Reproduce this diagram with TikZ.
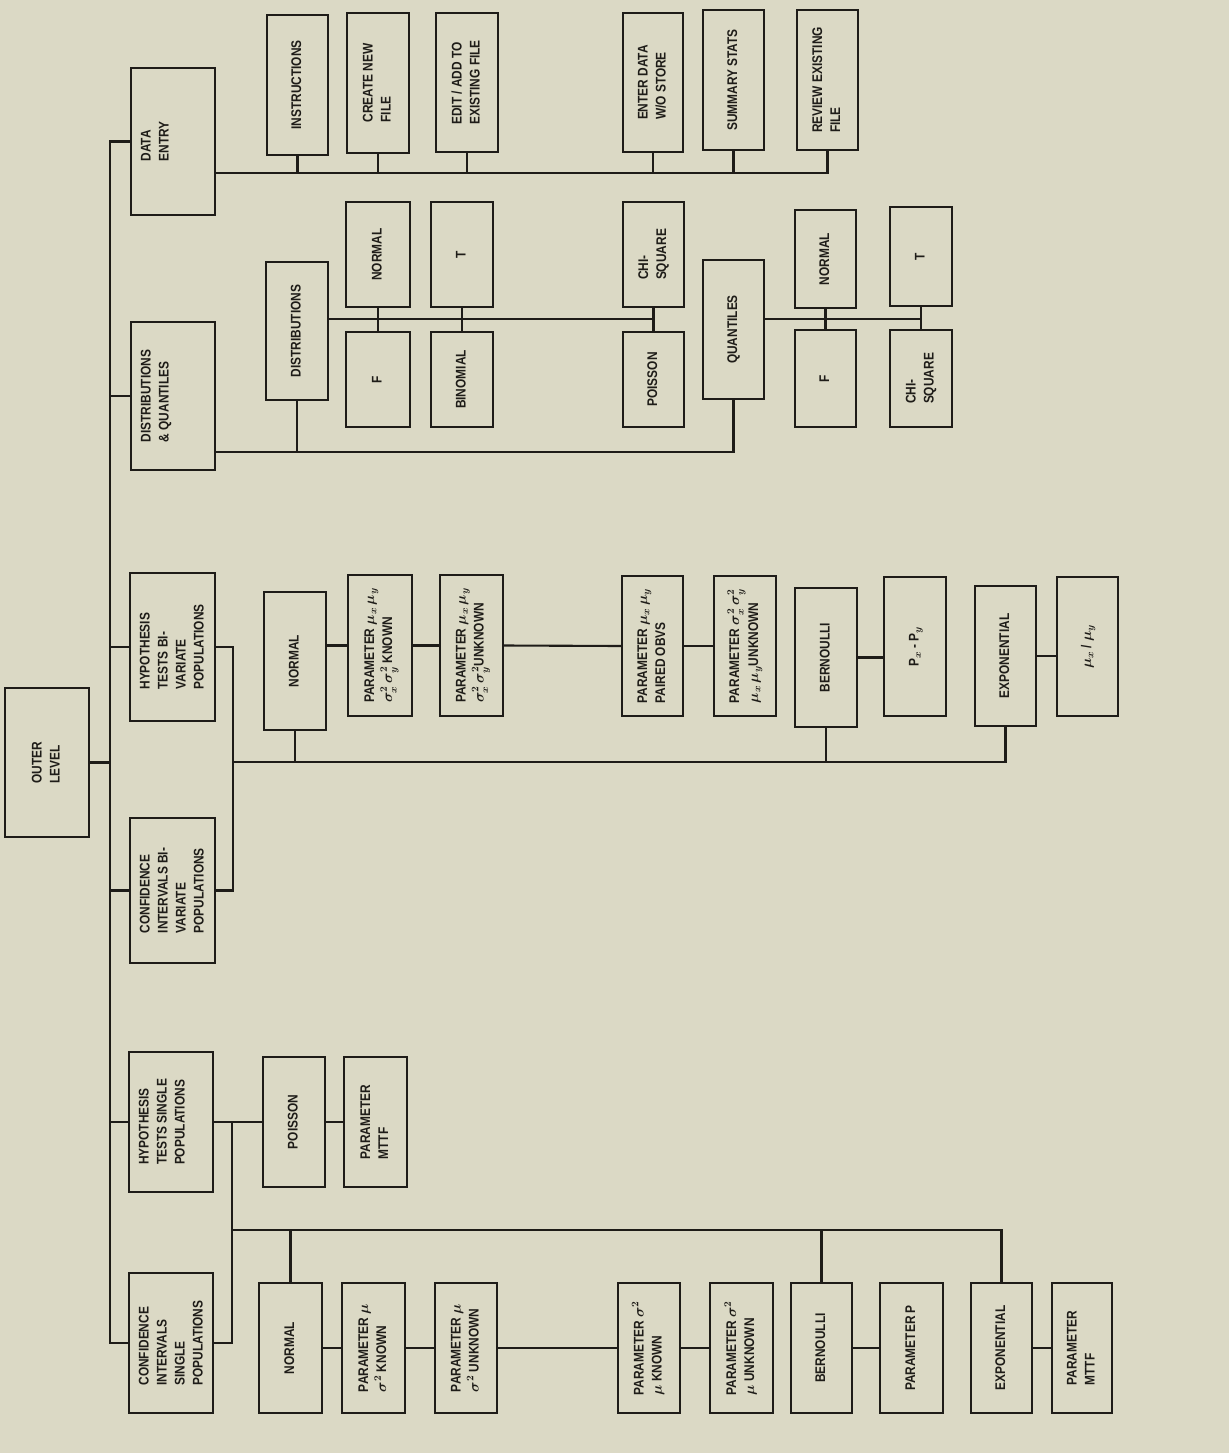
\documentclass[tikz,border=0pt]{standalone}
\usepackage{fontspec}
\setmainfont{Liberation Sans}[FakeStretch=0.85]
\usepackage{graphicx}
\definecolor{bgc}{RGB}{219,217,197}
\definecolor{ink}{RGB}{30,28,24}
\tikzset{
  box/.style={draw=ink, line width=2.4pt, inner sep=0pt, text=ink,
    font=\bfseries\boldmath\fontsize{14}{18}\selectfont},
  conn/.style={draw=ink, line width=2.1pt}
}
\newcommand\bx[6]{%
  \pgfmathsetmacro\bw{#4-#2}\pgfmathsetmacro\bh{#5-#3}%
  \node[box,minimum width=\bw pt,minimum height=\bh pt] (#1) at ({(#2+#4)/2},{(#3+#5)/2})
    {\rotatebox{90}{\begin{tabular}{@{}l@{}}#6\end{tabular}}};}
\newcommand\bxt[6]{%
  \pgfmathsetmacro\bw{#4-#2}\pgfmathsetmacro\bh{#5-#3}%
  \pgfmathsetmacro\ih{#4-#2-14}\pgfmathsetmacro\iw{#5-#3-10}%
  \node[box,minimum width=\bw pt,minimum height=\bh pt] (#1) at ({(#2+#4)/2},{(#3+#5)/2})
    {\rotatebox{90}{\parbox[c][\ih pt][t]{\iw pt}{\centering\begin{tabular}[t]{@{}l@{}}#6\end{tabular}}}};}
\begin{document}
\begin{tikzpicture}[x=1pt,y=-1pt]
\fill[bgc] (0,0) rectangle (1229,1453);
\useasboundingbox (0,0) rectangle (1229,1453);

% level 0 and level 1
\bx{out}{5}{688}{89}{837}{OUTER\\LEVEL}
\bxt{de}{131}{68}{215}{215}{DATA\\ENTRY}
\bxt{dq}{131}{322}{215}{470}{DISTRIBUTIONS\\\& QUANTILES}
\bxt{hb}{130}{573}{215}{721}{HYPOTHESIS\\TESTS BI-\\VARIATE\\POPULATIONS}
\bxt{cb}{130}{818}{215}{963}{CONFIDENCE\\INTERVALS BI-\\VARIATE\\POPULATIONS}
\bxt{hs}{129}{1052}{213}{1192}{HYPOTHESIS\\TESTS SINGLE\\POPULATIONS}
\bxt{cs}{129}{1273}{213}{1413}{CONFIDENCE\\INTERVALS\\SINGLE\\POPULATIONS}

% data entry
\bx{ins}{267}{15}{328}{155}{INSTRUCTIONS}
\bx{cnf}{347}{13}{409}{153}{CREATE NEW\\FILE}
\bx{edt}{436}{13}{498}{152}{EDIT / ADD TO\\EXISTING FILE}
\bx{ent}{623}{13}{683}{152}{ENTER DATA\\W/O STORE}
\bx{sum}{703}{10}{764}{150}{SUMMARY STATS}
\bx{rev}{797}{10}{858}{150}{REVIEW EXISTING\\FILE}

% distributions & quantiles
\bx{dist}{266}{262}{328}{400}{DISTRIBUTIONS}
\bx{n1}{346}{202}{410}{307}{NORMAL}
\bx{f1}{346}{332}{410}{427}{F}
\bx{t1}{431}{202}{493}{307}{T}
\bx{bin}{431}{332}{493}{427}{BINOMIAL}
\bx{c1}{623}{202}{684}{307}{CHI-\\SQUARE}
\bx{poi1}{623}{332}{684}{427}{POISSON}
\bx{qu}{703}{260}{764}{399}{QUANTILES}
\bx{n2}{795}{210}{856}{308}{NORMAL}
\bx{f2}{795}{330}{856}{427}{F}
\bx{t2}{890}{207}{952}{306}{T}
\bx{c2}{890}{330}{952}{427}{CHI-\\SQUARE}

% bivariate
\bx{nb}{264}{592}{326}{730}{NORMAL}
\bx{pk}{348}{575}{412}{716}{PARAMETER $\mu_x\,\mu_y$\\$\sigma_x^2\,\sigma_y^2$ KNOWN}
\bx{pu}{440}{575}{503}{716}{PARAMETER $\mu_x\,\mu_y$\\$\sigma_x^2\,\sigma_y^2$UNKNOWN}
\bx{pp}{622}{576}{683}{716}{PARAMETER $\mu_x\,\mu_y$\\PAIRED OBVS}
\bx{pv}{714}{576}{776}{716}{PARAMETER $\sigma_x^2\,\sigma_y^2$\\$\mu_x\,\mu_y$UNKNOWN}
\bx{bb}{795}{588}{857}{727}{BERNOULLI}
\bx{pxy}{884}{577}{946}{716}{P$_x$ - P$_y$}
\bx{eb}{975}{586}{1036}{726}{EXPONENTIAL}
\bx{mxy}{1057}{577}{1118}{716}{$\mu_x$ / $\mu_y$}

% single
\bx{poi2}{263}{1057}{325}{1187}{POISSON}
\bx{mt1}{344}{1057}{407}{1187}{PARAMETER\\MTTF}
\bx{ns}{259}{1283}{322}{1413}{NORMAL}
\bx{sk}{342}{1283}{405}{1413}{PARAMETER $\mu$\\$\sigma^2$ KNOWN}
\bx{su}{435}{1283}{497}{1413}{PARAMETER $\mu$\\$\sigma^2$ UNKNOWN}
\bx{vk}{618}{1283}{680}{1413}{PARAMETER $\sigma^2$\\$\mu$ KNOWN}
\bx{vu}{710}{1283}{773}{1413}{PARAMETER $\sigma^2$\\$\mu$ UNKNOWN}
\bx{bs}{791}{1283}{852}{1413}{BERNOULLI}
\bx{pp1}{880}{1283}{943}{1413}{PARAMETER P}
\bx{es}{971}{1283}{1032}{1413}{EXPONENTIAL}
\bx{mt2}{1052}{1283}{1112}{1413}{PARAMETER\\MTTF}

% trunk
\coordinate (tr) at (110,0);
\draw[conn] (de.west) -- (de.west -| tr) -- (cs.west -| tr) -- (cs.west);
\foreach \n in {dq,hb,cb,hs} \draw[conn] (\n.west) -- (\n.west -| tr);
\draw[conn] (out.east) -- (out.east -| tr);

% data entry bus
\coordinate (deb) at (0,173);
\draw[conn] (de.east |- deb) -- (rev.south |- deb) -- (rev.south);
\foreach \n in {ins,cnf,edt,ent,sum} \draw[conn] (\n.south) -- (\n.south |- deb);

% distributions
\coordinate (dqb) at (0,452);
\coordinate (dl) at (0,319);
\draw[conn] (dq.east |- dqb) -- (qu.south |- dqb) -- (qu.south);
\draw[conn] (dist.south) -- (dist.south |- dqb);
\draw[conn] (dist.east |- dl) -- (c1.south |- dl);
\draw[conn] (n1.south) -- (f1.north);
\draw[conn] (t1.south) -- (bin.north);
\draw[conn] (c1.south) -- (poi1.north);
\draw[conn] (qu.east |- dl) -- (t2.south |- dl);
\draw[conn] (n2.south) -- (f2.north);
\draw[conn] (t2.south) -- (c2.north);

% bivariate
\coordinate (bj) at (233,0);
\coordinate (bbus) at (0,762);
\draw[conn] (hb.east) -- (hb.east -| bj) -- (cb.east -| bj) -- (cb.east);
\draw[conn] (bj |- bbus) -- (eb.south |- bbus) -- (eb.south);
\draw[conn] (nb.south) -- (nb.south |- bbus);
\draw[conn] (bb.south) -- (bb.south |- bbus);
\draw[conn] (nb.east |- pk.west) -- (pk.west);
\draw[conn] (pk.east) -- (pu.west);
\draw[conn] (pu.east) -- (pp.west);
\draw[conn] (pp.east) -- (pv.west);
\draw[conn] (bb.east) -- (bb.east -| pxy.west);
\draw[conn] (eb.east) -- (eb.east -| mxy.west);

% single
\coordinate (sj) at (232,0);
\coordinate (sbus) at (0,1230);
\draw[conn] (hs.east) -- (poi2.west);
\draw[conn] (poi2.east) -- (mt1.west);
\draw[conn] (hs.east -| sj) -- (cs.east -| sj) -- (cs.east);
\draw[conn] (sj |- sbus) -- (es.north |- sbus) -- (es.north);
\draw[conn] (ns.north) -- (ns.north |- sbus);
\draw[conn] (bs.north) -- (bs.north |- sbus);
\draw[conn] (ns.east) -- (sk.west);
\draw[conn] (sk.east) -- (su.west);
\draw[conn] (su.east) -- (vk.west);
\draw[conn] (vk.east) -- (vu.west);
\draw[conn] (bs.east) -- (pp1.west);
\draw[conn] (es.east) -- (mt2.west);
\end{tikzpicture}
\end{document}
